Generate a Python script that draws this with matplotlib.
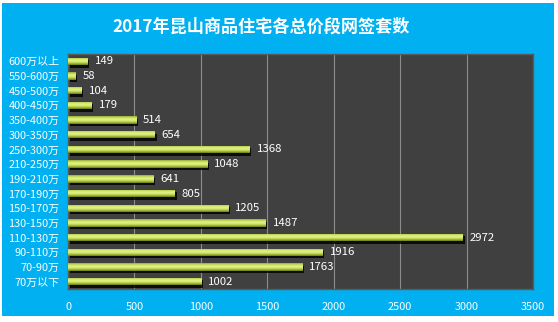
import numpy as np
import matplotlib.pyplot as plt
from matplotlib.patches import Rectangle
from matplotlib.colors import LinearSegmentedColormap
import matplotlib.patheffects as pe

plt.rcParams['font.family'] = ['Noto Sans CJK SC', 'DejaVu Sans']

# 总价段（自上而下）及网签套数
categories = ["600万以上", "550-600万", "450-500万", "400-450万", "350-400万",
              "300-350万", "250-300万", "210-250万", "190-210万", "170-190万",
              "150-170万", "130-150万", "110-130万", "90-110万", "70-90万", "70万以下"]
counts = [149, 58, 104, 179, 514, 654, 1368, 1048, 641, 805,
          1205, 1487, 2972, 1916, 1763, 1002]
title = "2017年昆山商品住宅各总价段网签套数"
xticks = [0, 500, 1000, 1500, 2000, 2500, 3000, 3500]

bg_blue = "#00b0f0"
plot_bg = "#404040"

fig = plt.figure(figsize=(5.58, 3.22), dpi=100, facecolor="white")
# 蓝色底板，四周留白边
fig.patches.append(Rectangle((2 / 558, 6 / 322), 552 / 558, 313 / 322,
                             transform=fig.transFigure, facecolor=bg_blue,
                             edgecolor="none", zorder=-5))

ax = fig.add_axes([68 / 558, 33 / 322, 465 / 558, 235 / 322])
ax.set_facecolor(plot_bg)

n = len(categories)
ypos = np.arange(n)[::-1]
h = 0.5

bars = ax.barh(ypos, counts, height=h, color="#9bbb59", zorder=3,
               path_effects=[pe.SimplePatchShadow(offset=(1.2, -1.8),
                                                  shadow_rgbFace="black", alpha=0.8),
                             pe.Normal()])

# 柱子的立体渐变：上下偏暗，中间高光
cmap = LinearSegmentedColormap.from_list(
    "bar", ["#66781c", "#b4cc44", "#e2f38a", "#d2e868", "#94ad32"])
grad = np.linspace(0, 1, 64).reshape(-1, 1)
for b, y, v in zip(bars, ypos, counts):
    im = ax.imshow(grad, cmap=cmap, aspect="auto", origin="lower",
                   extent=(0, v, y - h / 2, y + h / 2), zorder=4)
    im.set_clip_path(b)
    ax.annotate(str(v), (v, y), xytext=(5, 0), textcoords="offset points",
                va="center", ha="left", color="white", fontsize=8.2, zorder=5)

ax.set_xlim(0, 3500)
ax.set_ylim(-0.5, n - 0.5)
ax.set_xticks(xticks)
ax.set_yticks(ypos)
ax.set_yticklabels(categories)
ax.tick_params(axis="both", length=0, colors="white", labelsize=7.9)
ax.tick_params(axis="x", pad=9)
ax.tick_params(axis="y", pad=6)
ax.grid(axis="x", color="#8c8c8c", linewidth=0.8, zorder=1)
ax.set_axisbelow(True)
for s in ax.spines.values():
    s.set_color("#5a5a5a")
    s.set_linewidth(1.0)

fig.text(261 / 558, 1 - 27 / 322, title, ha="center", va="center",
         color="white", fontsize=12.3, fontweight="bold")

fig.savefig("out.png", dpi=100, facecolor="white")
